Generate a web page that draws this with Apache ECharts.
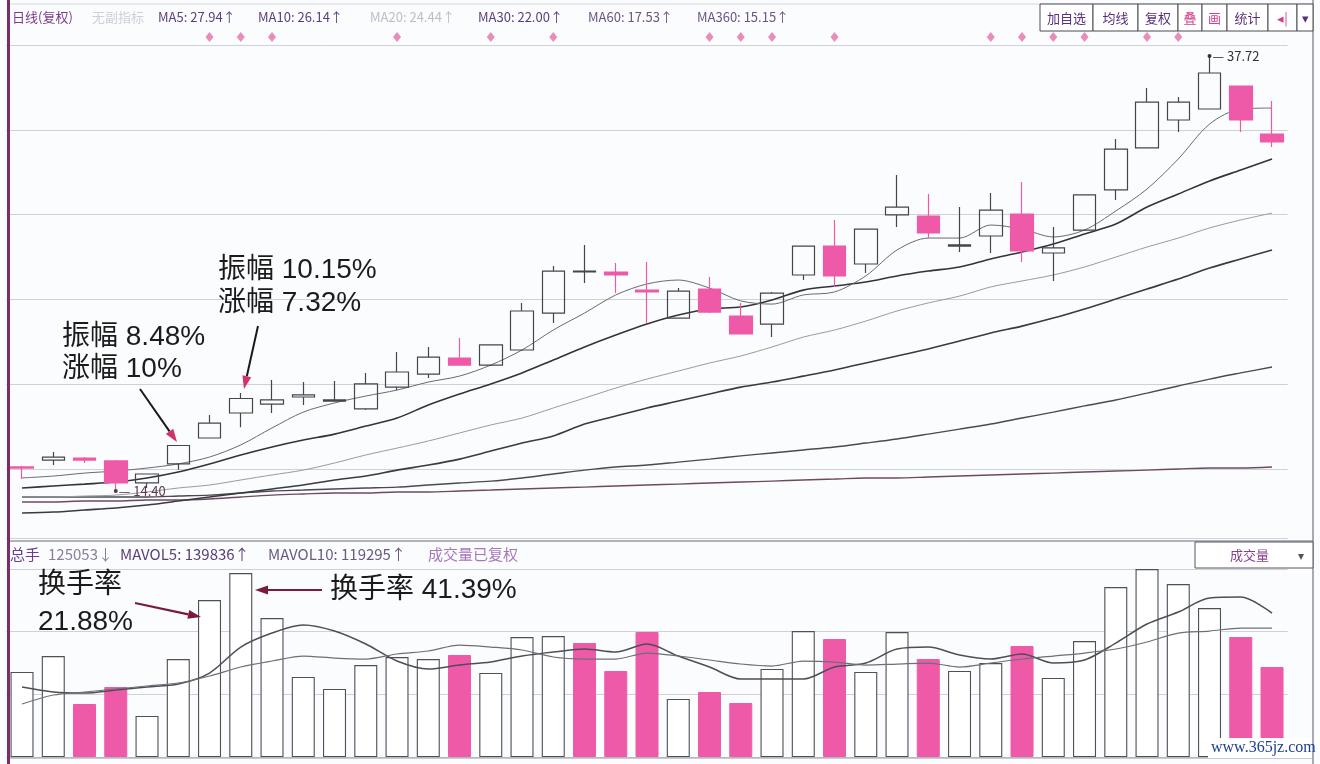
<!DOCTYPE html>
<html><head><meta charset="utf-8">
<script src="https://cdn.jsdelivr.net/npm/echarts/dist/echarts.min.js"></script>
<style>html,body{margin:0;padding:0;background:#fbfcfe;}#c{width:1320px;height:764px;}</style>
</head><body><div id="c"></div><script>
// ---------- data ----------
const days = ['1','2','3','4','5','6','7','8','9','10','11','12','13','14','15','16','17','18','19','20','21','22','23','24','25','26','27','28','29','30','31','32','33','34','35','36','37','38','39','40','41'];
// [open, close, lowest, highest]
const ohlc = [
 [15.69,15.63,15.04,15.74],[16.06,16.22,15.79,16.49],[16.17,16.06,15.90,16.22],[16.01,14.83,14.40,16.06],
 [14.83,15.31,14.56,15.31],[15.85,16.84,15.54,16.84],[17.24,18.04,17.24,18.47],[18.58,19.36,17.82,19.65],
 [19.06,19.28,18.58,20.35],[19.44,19.55,19.01,20.24],[19.22,19.28,19.20,20.30],[18.80,20.14,18.74,20.73],
 [19.97,20.78,19.81,21.85],[20.67,21.58,20.46,22.12],[21.53,21.15,21.15,22.60],[21.15,22.23,21.10,22.23],
 [21.96,24.05,21.90,24.48],[23.94,26.19,23.41,26.46],[26.14,26.19,25.55,27.59],[26.14,25.98,25.01,26.62],
 [25.17,25.07,23.41,26.68],[23.67,25.12,23.67,25.28],[25.23,23.99,23.94,25.87],[23.78,22.82,22.82,24.48],
 [23.35,25.01,22.65,25.07],[25.98,27.53,25.71,27.53],[27.53,25.93,25.34,28.93],[26.57,28.44,26.09,28.44],
 [29.20,29.62,28.55,31.34],[29.14,28.23,27.96,30.32],[27.53,27.59,27.21,29.62],[28.07,29.46,27.16,30.37],
 [29.25,27.27,26.68,30.96],[27.16,27.43,25.66,28.55],[28.39,30.27,28.34,30.27],[30.54,32.73,30.00,33.27],
 [32.79,35.25,32.79,36.00],[34.29,35.25,33.65,35.52],[34.88,36.81,34.88,37.72],[36.11,34.29,33.65,36.11],
 [33.54,33.11,32.84,35.31]
];
const ma5 = [15.10,15.20,15.36,15.47,15.63,15.85,16.22,16.87,17.78,18.63,19.12,19.49,19.81,20.24,20.56,21.15,21.96,23.03,23.94,24.91,25.50,25.71,25.28,24.59,24.42,24.91,25.07,25.93,27.32,27.96,27.96,28.66,28.44,28.02,28.39,29.41,30.59,32.20,34.07,34.88,34.93];
const ma10 = [14.56,14.67,14.77,14.88,15.10,15.42,15.85,16.33,16.76,17.13,17.45,17.88,18.31,19.01,19.60,20.14,20.73,21.42,22.12,22.76,23.35,23.83,24.16,24.26,24.64,25.17,25.39,25.60,25.93,26.19,26.41,26.84,27.21,27.64,28.18,28.71,29.62,30.32,31.02,31.61,32.20];
const ma20 = [14.08,14.08,14.13,14.18,14.35,14.56,14.72,14.99,15.26,15.52,15.90,16.33,16.70,17.08,17.51,17.94,18.31,18.85,19.38,19.92,20.40,20.83,21.26,21.64,22.12,22.65,23.03,23.51,24.05,24.48,24.85,25.34,25.66,25.98,26.41,26.94,27.48,27.96,28.50,28.93,29.30];
const ma30 = [13.22,13.27,13.38,13.49,13.65,13.86,14.08,14.29,14.51,14.72,14.99,15.20,15.52,15.79,16.11,16.54,16.97,17.35,17.99,18.42,18.85,19.22,19.60,19.97,20.24,20.56,20.89,21.26,21.64,22.01,22.44,22.87,23.24,23.67,24.16,24.69,25.23,25.76,26.35,26.84,27.32];
const ma60 = [14.08,14.08,14.08,14.08,14.08,14.13,14.18,14.29,14.40,14.45,14.51,14.56,14.61,14.72,14.83,14.93,15.10,15.31,15.52,15.69,15.79,15.95,16.11,16.28,16.44,16.60,16.76,16.97,17.19,17.45,17.72,17.99,18.31,18.63,18.96,19.28,19.65,20.03,20.40,20.73,21.05];
const ma360 = [13.81,13.81,13.86,13.86,13.92,13.92,13.97,14.08,14.18,14.24,14.29,14.29,14.35,14.35,14.40,14.45,14.51,14.56,14.61,14.67,14.72,14.77,14.83,14.88,14.93,14.99,15.04,15.10,15.10,15.15,15.20,15.26,15.31,15.36,15.42,15.47,15.52,15.58,15.63,15.63,15.69];
const volume = [118108,140340,73644,97265,56970,136171,218152,255668,193141,111160,94486,127834,138950,136171,141729,116718,166740,168130,158403,119497,173688,80591,90318,75033,122276,175077,163961,118108,173688,136171,119497,130613,154235,109771,161182,236215,261226,240384,207036,166740,125053];
const volumeDown = [0,0,1,1,0,0,0,0,0,0,0,0,0,0,1,0,0,0,1,1,1,0,1,1,0,0,1,0,0,1,0,0,1,0,0,0,0,0,0,1,1];
const mavol5 = [97265,90318,88928,93097,97265,101434,116718,152845,172298,183414,175077,157014,133392,122276,127834,132003,140340,145898,150066,145898,157014,140340,125055,108381,108381,108381,125055,130613,150066,152845,141729,136171,143119,130613,134782,158403,184804,201478,220931,222320,200088];
const mavol10 = [73644,86149,90318,94486,98655,102823,112550,125055,133392,140340,137561,136171,143119,147287,155624,152845,148677,138950,136171,136171,144508,140340,134782,129224,126445,133392,132003,127834,129224,130613,125055,130613,136171,140340,144508,150066,159793,172298,175077,179246,179246];
const eventDays = ['7','8','9','13','16','18','23','24','25','27','32','33','34','35','37','38'];
const maLegend = [['MA5','27.94'],['MA10','26.14'],['MA20','24.44'],['MA30','22.00'],['MA60','17.53'],['MA360','15.15']];
const volLegend = {total:'125053', mavol5:'139836', mavol10:'119295'};
const toolButtons = ['加自选','均线','复权','叠','画','统计','◂|','▾'];

// ---------- styling ----------
const PINK = '#ee5aa8';
const FONT = '"Noto Sans CJK SC","Noto Sans",sans-serif';
const ANNFONT = '"Liberation Sans","Noto Sans CJK SC",sans-serif';
const gridL = 6.4, gridW = 1281.25;

let hiIdx = 0, loIdx = 0;
ohlc.forEach((d,i)=>{ if(d[3]>ohlc[hiIdx][3]) hiIdx=i; if(d[2]<ohlc[loIdx][2]) loIdx=i; });

function maLine(name,data,color,width){
  return {name,type:'line',xAxisIndex:0,yAxisIndex:0,data,symbol:'none',smooth:0.3,z:2,
    lineStyle:{color,width},silent:true};
}
function arrow(x1,y1,x2,y2,lc,hc,w){
  const a=Math.atan2(y2-y1,x2-x1), L=13, W=4.5;
  const bx=x2-L*Math.cos(a), by=y2-L*Math.sin(a);
  const px=-Math.sin(a)*W, py=Math.cos(a)*W;
  return [
    {type:'line',z:50,shape:{x1,y1,x2:bx,y2:by},style:{stroke:lc,lineWidth:w}},
    {type:'polygon',z:50,shape:{points:[[x2,y2],[bx+px,by+py],[bx-px,by-py]]},style:{fill:hc}}
  ];
}
function txt(x,y,text,fill,size,extra){
  return {type:'text',x,y,z:60,style:Object.assign({text,fill,fontSize:size,fontFamily:FONT,verticalAlign:'middle'},extra||{})};
}

const graphics = [];
// frame lines
graphics.push({type:'line',z:40,shape:{x1:10,y1:4,x2:1313,y2:4},style:{stroke:'#d4d4dc',lineWidth:1}});
graphics.push({type:'rect',z:40,shape:{x:7,y:0,width:3,height:764},style:{fill:'#7a2d68'}});
graphics.push({type:'line',z:40,shape:{x1:1313,y1:0,x2:1313,y2:764},style:{stroke:'#8e8e9a',lineWidth:1.5}});
graphics.push({type:'line',z:40,shape:{x1:10,y1:541,x2:1313,y2:541},style:{stroke:'#6a6a74',lineWidth:1.2}});
graphics.push({type:'line',z:40,shape:{x1:10,y1:758,x2:1313,y2:758},style:{stroke:'#9a9aa4',lineWidth:1}});
// top header
graphics.push(txt(12,17,'日线(复权)','#7b3b8c',13));
graphics.push(txt(92,17,'无副指标','#cfcfd8',13));
const maX = [158,258,370,478,588,697];
const maCol = ['#5b3f7a','#5b3f7a','#bdbdc8','#5b3f7a','#6b5585','#6b5585'];
maLegend.forEach((m,i)=>graphics.push(txt(maX[i],17,m[0]+': '+m[1]+'↑',maCol[i],13)));
// toolbar buttons
const btnX = [1040,1093,1138,1178,1202,1227,1268,1297,1313];
toolButtons.forEach((b,i)=>{
  graphics.push({type:'rect',z:41,shape:{x:btnX[i],y:4,width:btnX[i+1]-btnX[i],height:27},style:{fill:'#ffffff',stroke:'#4a4a55',lineWidth:1}});
  const col = (i===3||i===4||i===6)?'#d0408a':'#5a2f7e';
  graphics.push(txt((btnX[i]+btnX[i+1])/2,18,b,col,13,{align:'center'}));
});
// volume header
graphics.push(txt(10,554,'总手','#6b3f8c',15));
graphics.push(txt(48,554,volLegend.total+'↓','#8a7f9a',15));
graphics.push(txt(120,554,'MAVOL5: '+volLegend.mavol5+'↑','#5b3f7a',15));
graphics.push(txt(268,554,'MAVOL10: '+volLegend.mavol10+'↑','#6b5a80',15));
graphics.push(txt(428,554,'成交量已复权','#a678b8',15));
graphics.push({type:'rect',z:41,shape:{x:1195,y:542,width:118,height:26},style:{fill:'#ffffff',stroke:'#555560',lineWidth:1}});
graphics.push(txt(1230,555,'成交量','#8a3f8c',13));
graphics.push(txt(1298,555,'▾','#555',12));
// watermark
graphics.push({type:'rect',z:58,shape:{x:1208,y:738,width:104,height:20},style:{fill:'#ffffff'}});
graphics.push(txt(1211,748,'www.365jz.com','#1c3f91',16,{fontFamily:'"Liberation Serif",serif'}));
// annotations
const ANN = '#1b1b1b';
const A = {fontFamily:ANNFONT};
graphics.push(txt(62,337,'振幅 8.48%',ANN,28,A));
graphics.push(txt(62,369,'涨幅 10%',ANN,28,A));
graphics.push(txt(218,270,'振幅 10.15%',ANN,28,A));
graphics.push(txt(218,303,'涨幅 7.32%',ANN,28,A));
graphics.push(txt(38,585,'换手率',ANN,28,A));
graphics.push(txt(38,622,'21.88%',ANN,28,A));
graphics.push(txt(330,590,'换手率 41.39%',ANN,28,A));
graphics.push(...arrow(140,389,177,442,'#1a1a1a','#d2306e',2));
graphics.push(...arrow(258,326,244,389,'#1a1a1a','#d2306e',2));
graphics.push(...arrow(135,603,201,617,'#7a1a3c','#7a1a3c',2.2));
graphics.push(...arrow(322,590,255,590,'#7a1a3c','#7a1a3c',2.2));

const option = {
  animation:false,
  backgroundColor:'#fbfcfe',
  grid:[
    {left:gridL,width:gridW,top:45,height:493},
    {left:gridL,width:gridW,top:569,height:188},
    {left:gridL,width:gridW,top:31,height:12}
  ],
  xAxis:[
    {type:'category',gridIndex:0,data:days,boundaryGap:true,show:false},
    {type:'category',gridIndex:1,data:days,boundaryGap:true,show:false},
    {type:'category',gridIndex:2,data:days,boundaryGap:true,show:false}
  ],
  yAxis:[
    {type:'value',gridIndex:0,min:11.88,max:38.31,show:false,scale:true},
    {type:'value',gridIndex:0,min:0,max:5.814,interval:1,inverse:true,
      axisLine:{show:false},axisTick:{show:false},axisLabel:{show:false},
      splitLine:{show:true,lineStyle:{color:'#cfd1d8',width:1}}},
    {type:'value',gridIndex:1,min:0,max:261300,interval:87100,
      axisLine:{show:false},axisTick:{show:false},axisLabel:{show:false},
      splitLine:{show:true,lineStyle:{color:'#cfd1d8',width:1}}},
    {type:'value',gridIndex:2,min:0,max:1,show:false}
  ],
  graphic:graphics,
  series:[
    maLine('MA360',ma360,'#6d4a62',1.4),
    maLine('MA60',ma60,'#4a4a50',1.4),
    maLine('MA30',ma30,'#3a3a40',1.6),
    maLine('MA20',ma20,'#9a9aa2',1),
    maLine('MA10',ma10,'#333338',1.6),
    maLine('MA5',ma5,'#6a6a70',1),
    {type:'candlestick',xAxisIndex:0,yAxisIndex:0,data:ohlc,barWidth:23,z:3,
      itemStyle:{color:'rgba(255,255,255,0)',color0:PINK,borderColor:'#45454c',borderColor0:PINK,borderWidth:1.2},
      markPoint:{symbol:'circle',symbolSize:4,silent:true,
        data:[
          {coord:[hiIdx,ohlc[hiIdx][3]],itemStyle:{color:'#333'},
            label:{show:true,position:'right',distance:1,formatter:'— '+ohlc[hiIdx][3].toFixed(2),color:'#333',fontSize:13,fontFamily:FONT}},
          {coord:[loIdx,ohlc[loIdx][2]],itemStyle:{color:'#444'},
            label:{show:true,position:'right',distance:1,formatter:'— '+ohlc[loIdx][2].toFixed(2),color:'#5a3a50',fontSize:13,fontFamily:FONT}}
        ]}
    },
    {type:'bar',xAxisIndex:1,yAxisIndex:2,barWidth:23,z:2,
      data:volume.map((v,i)=>({value:v,itemStyle:volumeDown[i]?{color:PINK,borderColor:PINK,borderWidth:1}:{color:'#ffffff',borderColor:'#4f4f58',borderWidth:1.1}}))},
    {type:'line',xAxisIndex:1,yAxisIndex:2,data:mavol5,symbol:'none',smooth:0.3,z:4,lineStyle:{color:'#4e4e56',width:1.5}},
    {type:'line',xAxisIndex:1,yAxisIndex:2,data:mavol10,symbol:'none',smooth:0.3,z:4,lineStyle:{color:'#6e6e78',width:1.2}},
    {type:'scatter',xAxisIndex:2,yAxisIndex:3,data:eventDays.map(d=>[d,0.5]),symbol:'diamond',symbolSize:[8,10],
      itemStyle:{color:'#e46fab'},z:5}
  ]
};
echarts.init(document.getElementById('c')).setOption(option);
</script></body></html>
